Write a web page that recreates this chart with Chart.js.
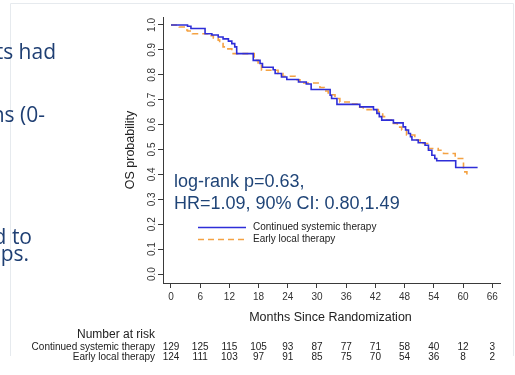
<!DOCTYPE html>
<html>
<head>
<meta charset="utf-8">
<script src="https://cdn.jsdelivr.net/npm/chart.js@4.4.1/dist/chart.umd.min.js"></script>
<style>
  html, body { margin: 0; padding: 0; background: #ffffff; }
  #wrap { position: relative; width: 515px; height: 375px; }
  canvas { display: block; }
</style>
</head>
<body>
<div id="wrap"><canvas id="km" width="515" height="375"></canvas></div>
<script>
// Kaplan-Meier overall survival by arm (step points: time in months, survival)
const contTime = [0, 3.4, 4.1, 7.0, 8.4, 9.7, 10.7, 11.8, 12.5, 13.1, 13.5, 16.9, 18.3, 18.8, 21.0, 21.4, 22.7, 23.8, 26.2, 27.8, 28.8, 32.7, 33.0, 34.1, 38.8, 41.6, 42.3, 42.8, 43.3, 45.7, 47.7, 48.2, 48.8, 49.2, 49.5, 50.8, 52.2, 52.9, 53.6, 54.2, 54.6, 58.5, 63.0];
const contSurv = [1.0, 0.995, 0.986, 0.965, 0.96, 0.952, 0.944, 0.935, 0.925, 0.912, 0.885, 0.858, 0.845, 0.83, 0.82, 0.805, 0.791, 0.781, 0.771, 0.763, 0.741, 0.718, 0.705, 0.681, 0.671, 0.66, 0.645, 0.632, 0.618, 0.607, 0.591, 0.578, 0.564, 0.551, 0.538, 0.527, 0.517, 0.497, 0.477, 0.464, 0.455, 0.428, 0.428];

const earlyTime = [0, 1.7, 2.9, 3.4, 4.4, 7.5, 8.7, 9.7, 10.0, 10.7, 11.5, 12.5, 17.1, 17.9, 18.6, 22.0, 23.0, 25.5, 26.5, 30.6, 31.5, 32.3, 33.7, 34.7, 36.8, 38.5, 39.5, 42.6, 43.5, 44.3, 45.3, 46.5, 47.4, 48.4, 50.1, 51.2, 52.9, 54.9, 56.0, 58.4, 60.1, 60.8];
const earlySurv = [1.0, 0.992, 0.98, 0.976, 0.965, 0.957, 0.948, 0.939, 0.925, 0.912, 0.904, 0.885, 0.858, 0.838, 0.818, 0.805, 0.794, 0.78, 0.767, 0.749, 0.735, 0.72, 0.705, 0.691, 0.682, 0.67, 0.66, 0.651, 0.632, 0.618, 0.605, 0.59, 0.578, 0.558, 0.538, 0.524, 0.504, 0.497, 0.484, 0.464, 0.41, 0.40];

// Axis ticks
const monthTicks = [0, 6, 12, 18, 24, 30, 36, 42, 48, 54, 60, 66];
const probTicks = [0.0, 0.1, 0.2, 0.3, 0.4, 0.5, 0.6, 0.7, 0.8, 0.9, 1.0];

// Number at risk at each month tick
const riskContinued = [129, 125, 115, 105, 93, 87, 77, 71, 58, 40, 12, 3];
const riskEarly = [124, 111, 103, 97, 91, 85, 75, 70, 54, 36, 8, 2];

const seriesNames = ['Continued systemic therapy', 'Early local therapy'];
const statLines = ['log-rank p=0.63,', 'HR=1.09, 90% CI: 0.80,1.49'];
const slideLines = ['ts had', 'ns (0-', 'd to', 'ups.'];

const BLUE = '#2e2ed8';
const ORANGE = '#f4a243';
const TEXT = '#222222';
const AXIS = '#3a3a3a';
const FONT = '"Liberation Sans", Arial, sans-serif';

const toPoints = (t, s) => t.map((v, i) => ({ x: v, y: s[i] }));

// Slide frame, slide text, titles, legend, statistics and risk table
const extras = {
  id: 'extras',
  beforeDraw(chart) {
    const ctx = chart.ctx;
    ctx.save();
    ctx.strokeStyle = '#e6eaee';
    ctx.lineWidth = 1;
    ctx.beginPath();
    ctx.moveTo(10.5, 356); ctx.lineTo(10.5, 3.5); ctx.lineTo(513.5, 3.5); ctx.lineTo(513.5, 356);
    ctx.stroke();
    // partial slide text at the left edge
    ctx.fillStyle = '#1f3f73';
    ctx.font = '21px "Open Sans", "Noto Sans", sans-serif';
    ctx.textAlign = 'right';
    ctx.textBaseline = 'alphabetic';
    const rights = [56, 45, 32, 29];
    const bases = [59, 122, 244, 261];
    slideLines.forEach((s, i) => ctx.fillText(s, rights[i], bases[i]));
    ctx.restore();
  },
  afterDraw(chart) {
    const ctx = chart.ctx;
    const xs = chart.scales.x;
    const ys = chart.scales.y;
    ctx.save();

    // y-axis title
    ctx.fillStyle = TEXT;
    ctx.font = '12.5px ' + FONT;
    ctx.textAlign = 'center';
    ctx.textBaseline = 'middle';
    ctx.save();
    ctx.translate(131, (ys.top + ys.bottom) / 2);
    ctx.rotate(-Math.PI / 2);
    ctx.fillText('OS probability', 0, 0);
    ctx.restore();

    // x-axis title
    ctx.fillText('Months Since Randomization', (xs.left + xs.right) / 2 - 1, 318);

    // statistics text
    ctx.fillStyle = '#1f4477';
    ctx.font = '18px ' + FONT;
    ctx.textAlign = 'left';
    ctx.textBaseline = 'alphabetic';
    ctx.fillText(statLines[0], 174, 187);
    ctx.fillText(statLines[1], 174, 208.5);

    // legend
    ctx.lineWidth = 1.6;
    ctx.strokeStyle = BLUE;
    ctx.beginPath(); ctx.moveTo(198, 227.5); ctx.lineTo(246, 227.5); ctx.stroke();
    ctx.strokeStyle = ORANGE;
    ctx.setLineDash([6, 4]);
    ctx.beginPath(); ctx.moveTo(198, 239.5); ctx.lineTo(246, 239.5); ctx.stroke();
    ctx.setLineDash([]);
    ctx.fillStyle = TEXT;
    ctx.font = '10px ' + FONT;
    ctx.textBaseline = 'middle';
    ctx.fillText(seriesNames[0], 253, 227.5);
    ctx.fillText(seriesNames[1], 253, 239.5);

    // number at risk table
    ctx.font = '12px ' + FONT;
    ctx.textAlign = 'right';
    ctx.fillText('Number at risk', 155, 335);
    ctx.font = '10px ' + FONT;
    ctx.fillText(seriesNames[0], 155, 347.5);
    ctx.fillText(seriesNames[1], 155, 357);
    ctx.textAlign = 'center';
    monthTicks.forEach((m, i) => {
      const px = xs.getPixelForValue(m);
      ctx.fillText(String(riskContinued[i]), px, 347.5);
      ctx.fillText(String(riskEarly[i]), px, 357);
    });
    ctx.restore();
  }
};

new Chart(document.getElementById('km'), {
  type: 'line',
  data: {
    datasets: [
      {
        label: seriesNames[0],
        data: toPoints(contTime, contSurv),
        borderColor: BLUE,
        borderWidth: 1.6,
        stepped: 'before',
        pointRadius: 0,
        fill: false
      },
      {
        label: seriesNames[1],
        data: toPoints(earlyTime, earlySurv),
        borderColor: ORANGE,
        borderWidth: 1.6,
        borderDash: [6, 4],
        stepped: 'before',
        pointRadius: 0,
        fill: false
      }
    ]
  },
  options: {
    responsive: false,
    devicePixelRatio: 1,
    animation: false,
    layout: { padding: { top: 17, right: 15, left: 0, bottom: 0 } },
    plugins: { legend: { display: false }, tooltip: { enabled: false } },
    scales: {
      x: {
        type: 'linear',
        min: -1.64,
        max: 67.6,
        afterBuildTicks(scale) { scale.ticks = monthTicks.map(v => ({ value: v })); },
        afterFit(scale) { scale.height = 92; },
        ticks: {
          color: '#333333',
          font: { family: FONT, size: 10 },
          padding: 3,
          maxRotation: 0,
          autoSkip: false,
          callback: v => String(v)
        },
        grid: { display: true, drawOnChartArea: false, drawTicks: true, tickLength: 5, color: AXIS },
        border: { display: true, color: AXIS, width: 1 }
      },
      y: {
        type: 'linear',
        min: -0.036,
        max: 1.032,
        afterBuildTicks(scale) { scale.ticks = probTicks.map(v => ({ value: v })); },
        afterFit(scale) { scale.width = 163; },
        ticks: {
          color: '#333333',
          font: { family: FONT, size: 10 },
          minRotation: 90,
          maxRotation: 90,
          crossAlign: 'center',
          padding: -1,
          autoSkip: false,
          callback: v => Number(v).toFixed(1)
        },
        grid: { display: true, drawOnChartArea: false, drawTicks: true, tickLength: 5, color: AXIS },
        border: { display: true, color: AXIS, width: 1 }
      }
    }
  },
  plugins: [extras]
});
</script>
</body>
</html>
